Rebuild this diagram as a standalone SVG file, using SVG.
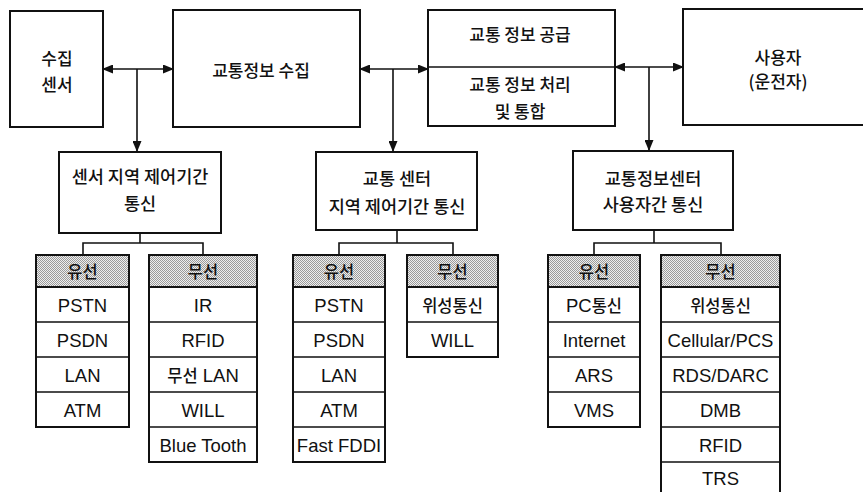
<svg xmlns="http://www.w3.org/2000/svg" width="863" height="492" viewBox="0 0 863 492">
<style>
  .box{fill:#fff;stroke:#111;stroke-width:2}
  .ln{fill:none;stroke:#111;stroke-width:1.6}
  .t{font-family:"Noto Sans CJK KR","Liberation Sans",sans-serif;font-size:17px;font-weight:500;fill:#111;text-anchor:middle;dominant-baseline:central}
  .tm{font-family:"Noto Sans CJK KR","Liberation Sans",sans-serif;font-size:17.5px;font-weight:500;fill:#111;text-anchor:middle;dominant-baseline:central}
  .tk{font-family:"Noto Sans CJK KR","Liberation Sans",sans-serif;font-size:16.5px;font-weight:500;fill:#111;text-anchor:middle;dominant-baseline:central}
  .c{font-family:"Liberation Sans","Noto Sans CJK KR",sans-serif;font-size:18.5px;fill:#111;text-anchor:middle;dominant-baseline:central}
  .k{font-family:"Noto Sans CJK KR",sans-serif;font-size:16.5px;font-weight:500}
  .hd{fill:url(#dots);stroke:#111;stroke-width:2}
</style>
<defs>
  <pattern id="dots" width="2" height="2" patternUnits="userSpaceOnUse">
    <rect width="2" height="2" fill="#eeeeee"/>
    <rect width="1" height="1" fill="#9a9a9a"/>
    <rect x="1" y="1" width="1" height="1" fill="#9a9a9a"/>
  </pattern>
  <marker id="ah" markerUnits="userSpaceOnUse" markerWidth="11" markerHeight="9" refX="10" refY="4.5" orient="auto-start-reverse">
    <path d="M0,0 L11,4.5 L0,9 z" fill="#111"/>
  </marker>
</defs>
<rect width="863" height="492" fill="#fff"/>

<g id="n-sensor">
  <rect class="box" x="10" y="11" width="93" height="116"/>
  <text class="t" x="57" y="57">수집</text>
  <text class="t" x="57" y="83">센서</text>
</g>
<g id="n-collect">
  <rect class="box" x="173" y="10" width="187" height="117"/>
  <text class="t" x="261" y="69">교통정보 수집</text>
</g>
<g id="n-process">
  <rect class="box" x="428" y="10" width="187" height="116"/>
  <line class="ln" x1="428" y1="67" x2="615" y2="67"/>
  <text class="t" x="520" y="33">교통 정보 공급</text>
  <text class="t" x="520" y="83">교통 정보 처리</text>
  <text class="t" x="520" y="110">및 통합</text>
</g>
<g id="n-user">
  <rect class="box" x="683" y="9" width="190" height="116"/>
  <text class="t" x="778" y="56">사용자</text>
  <text class="t" x="778" y="80">(운전자)</text>
</g>

<g id="n-mid1">
  <rect class="box" x="59" y="152" width="162" height="81"/>
  <text class="tm" x="140" y="175">센서 지역 제어기간</text>
  <text class="tm" x="140" y="202">통신</text>
</g>
<g id="n-mid2">
  <rect class="box" x="316" y="152" width="161" height="78"/>
  <text class="tm" x="397" y="177">교통 센터</text>
  <text class="tm" x="397" y="205">지역 제어기간 통신</text>
</g>
<g id="n-mid3">
  <rect class="box" x="573" y="151" width="160" height="79"/>
  <text class="tm" x="653" y="177">교통정보센터</text>
  <text class="tm" x="653" y="203">사용자간 통신</text>
</g>

<g id="connectors">
  <line class="ln" x1="103" y1="69" x2="173" y2="69" marker-start="url(#ah)" marker-end="url(#ah)"/>
  <line class="ln" x1="137" y1="69" x2="137" y2="151" marker-end="url(#ah)"/>
  <line class="ln" x1="360" y1="69" x2="428" y2="69" marker-start="url(#ah)" marker-end="url(#ah)"/>
  <line class="ln" x1="393" y1="69" x2="393" y2="151" marker-end="url(#ah)"/>
  <line class="ln" x1="615" y1="67" x2="683" y2="67" marker-start="url(#ah)" marker-end="url(#ah)"/>
  <line class="ln" x1="649" y1="67" x2="649" y2="150" marker-end="url(#ah)"/>
  <path class="ln" d="M140,233 V243 M83,255 V243 H203 V255"/>
  <path class="ln" d="M397,230 V243 M339,255 V243 H453 V255"/>
  <path class="ln" d="M654,230 V243 M594,255 V243 H721 V255"/>
</g>

<g id="tbl1">
  <rect class="box" x="36" y="255" width="93" height="172"/>
  <rect class="hd" x="36" y="255" width="93" height="32"/>
  <path class="ln" d="M36,322 H129 M36,357 H129 M36,392 H129"/>
  <text class="tk" x="82.5" y="271">유선</text>
  <text class="c" x="82.5" y="305">PSTN</text>
  <text class="c" x="82.5" y="340">PSDN</text>
  <text class="c" x="82.5" y="375">LAN</text>
  <text class="c" x="82.5" y="410">ATM</text>
</g>
<g id="tbl2">
  <rect class="box" x="149" y="255" width="108" height="207"/>
  <rect class="hd" x="149" y="255" width="108" height="32"/>
  <path class="ln" d="M149,322 H257 M149,357 H257 M149,392 H257 M149,427 H257"/>
  <text class="tk" x="203" y="271">무선</text>
  <text class="c" x="203" y="305">IR</text>
  <text class="c" x="203" y="340">RFID</text>
  <text class="c" x="203" y="375"><tspan class="k">무선</tspan> LAN</text>
  <text class="c" x="203" y="410">WILL</text>
  <text class="c" x="203" y="445">Blue Tooth</text>
</g>
<g id="tbl3">
  <rect class="box" x="293" y="255" width="92" height="207"/>
  <rect class="hd" x="293" y="255" width="92" height="32"/>
  <path class="ln" d="M293,322 H385 M293,357 H385 M293,392 H385 M293,427 H385"/>
  <text class="tk" x="339" y="271">유선</text>
  <text class="c" x="339" y="305">PSTN</text>
  <text class="c" x="339" y="340">PSDN</text>
  <text class="c" x="339" y="375">LAN</text>
  <text class="c" x="339" y="410">ATM</text>
  <text class="c" x="339" y="445">Fast FDDI</text>
</g>
<g id="tbl4">
  <rect class="box" x="407" y="255" width="91" height="102"/>
  <rect class="hd" x="407" y="255" width="91" height="32"/>
  <path class="ln" d="M407,322 H498"/>
  <text class="tk" x="452.5" y="271">무선</text>
  <text class="tk" x="452.5" y="305">위성통신</text>
  <text class="c" x="452.5" y="340">WILL</text>
</g>
<g id="tbl5">
  <rect class="box" x="548" y="255" width="92" height="172"/>
  <rect class="hd" x="548" y="255" width="92" height="32"/>
  <path class="ln" d="M548,322 H640 M548,357 H640 M548,392 H640"/>
  <text class="tk" x="594" y="271">유선</text>
  <text class="c" x="594" y="305">PC<tspan class="k">통신</tspan></text>
  <text class="c" x="594" y="340">Internet</text>
  <text class="c" x="594" y="375">ARS</text>
  <text class="c" x="594" y="410">VMS</text>
</g>
<g id="tbl6">
  <rect class="box" x="661" y="255" width="119" height="245"/>
  <rect class="hd" x="661" y="255" width="119" height="32"/>
  <path class="ln" d="M661,322 H780 M661,357 H780 M661,392 H780 M661,427 H780 M661,462 H780"/>
  <text class="tk" x="720.5" y="271">무선</text>
  <text class="tk" x="720.5" y="305">위성통신</text>
  <text class="c" x="720.5" y="340">Cellular/PCS</text>
  <text class="c" x="720.5" y="375">RDS/DARC</text>
  <text class="c" x="720.5" y="410">DMB</text>
  <text class="c" x="720.5" y="445">RFID</text>
  <text class="c" x="720.5" y="478">TRS</text>
</g>
</svg>
